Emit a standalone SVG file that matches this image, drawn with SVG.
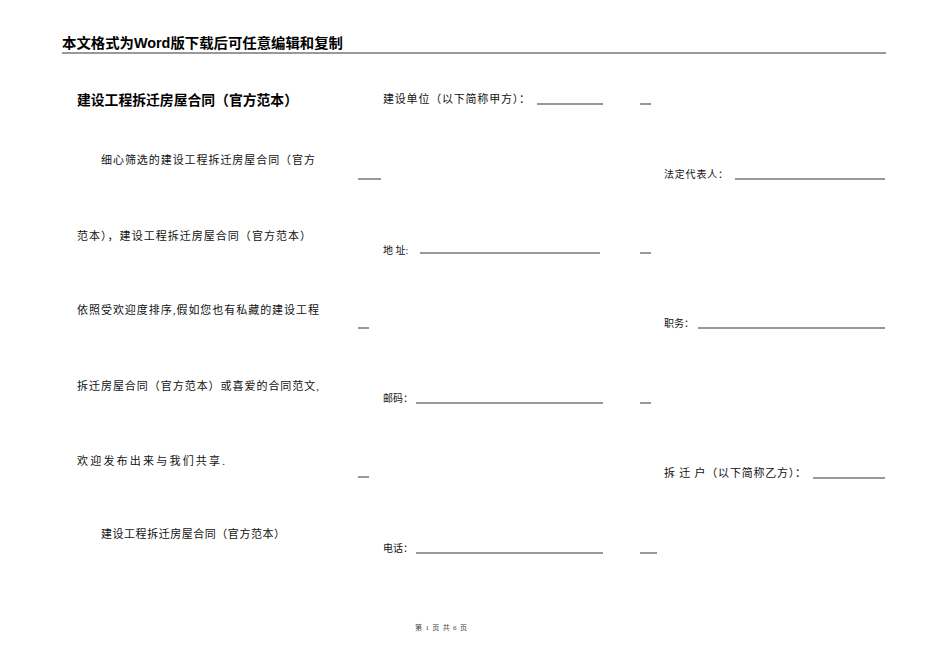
<svg xmlns="http://www.w3.org/2000/svg" width="950" height="672" viewBox="0 0 950 672">
<style>
.hd{font-family:"Liberation Sans","Noto Sans CJK SC",sans-serif;font-weight:bold;font-size:14px;fill:#000}
.t{font-family:"Liberation Serif","Noto Sans CJK SC",serif;font-size:11px;fill:#111}
.s{font-family:"Liberation Serif","Noto Sans CJK SC",serif;font-size:10px;fill:#111}
.ul{stroke:#333;stroke-width:1}
.ft{font-family:"Liberation Serif","Noto Sans CJK SC",serif;font-size:7px;fill:#444}
</style>
<rect width="950" height="672" fill="#fff"/>
<g id="header">
<text class="hd" x="62" y="48" textLength="281" lengthAdjust="spacingAndGlyphs">本文格式为Word版下载后可任意编辑和复制</text>
<line x1="62" y1="53" x2="886" y2="53" stroke="#777" stroke-width="1.5"/>
</g>
<g id="left">
<text class="hd" x="77" y="105" textLength="221" lengthAdjust="spacingAndGlyphs">建设工程拆迁房屋合同（官方范本）</text>
<text class="t" x="101" y="164" textLength="214" lengthAdjust="spacing">细心筛选的建设工程拆迁房屋合同（官方</text>
<text class="t" x="77" y="240" textLength="234" lengthAdjust="spacing">范本），建设工程拆迁房屋合同（官方范本）</text>
<text class="t" x="77" y="314" textLength="242" lengthAdjust="spacing">依照受欢迎度排序,假如您也有私藏的建设工程</text>
<text class="t" x="77" y="390" textLength="242" lengthAdjust="spacing">拆迁房屋合同（官方范本）或喜爱的合同范文,</text>
<text class="t" x="77" y="465" textLength="148" lengthAdjust="spacing">欢迎发布出来与我们共享.</text>
<text class="t" x="101" y="538" textLength="184" lengthAdjust="spacing">建设工程拆迁房屋合同（官方范本）</text>
</g>
<g id="middle">
<text class="t" x="383" y="103" textLength="147" lengthAdjust="spacing">建设单位（以下简称甲方）：</text>
<line class="ul" x1="537" y1="104" x2="603" y2="104"/>
<line class="ul" x1="640" y1="104" x2="651" y2="104"/>
<line class="ul" x1="358" y1="179" x2="381" y2="179"/>
<text class="s" x="383" y="254">地 址:</text>
<line class="ul" x1="420" y1="253" x2="600" y2="253"/>
<line class="ul" x1="640" y1="253" x2="651" y2="253"/>
<line class="ul" x1="358" y1="328" x2="369" y2="328"/>
<text class="s" x="383" y="402">邮码：</text>
<line class="ul" x1="416" y1="403" x2="603" y2="403"/>
<line class="ul" x1="640" y1="403" x2="651" y2="403"/>
<line class="ul" x1="358" y1="477" x2="369" y2="477"/>
<text class="s" x="383" y="552">电话：</text>
<line class="ul" x1="416" y1="553" x2="603" y2="553"/>
<line class="ul" x1="640" y1="553" x2="657" y2="553"/>
</g>
<g id="right">
<text class="s" x="664" y="178" textLength="64" lengthAdjust="spacing">法定代表人：</text>
<line class="ul" x1="735" y1="179" x2="885" y2="179"/>
<text class="s" x="664" y="327">职务：</text>
<line class="ul" x1="698" y1="328" x2="885" y2="328"/>
<text class="t" x="664" y="477" textLength="142" lengthAdjust="spacing">拆 迁 户（以下简称乙方）：</text>
<line class="ul" x1="813" y1="478" x2="885" y2="478"/>
</g>
<g id="footer">
<text class="ft" x="415" y="630" textLength="52" lengthAdjust="spacing">第 1 页 共 6 页</text>
</g>
</svg>
